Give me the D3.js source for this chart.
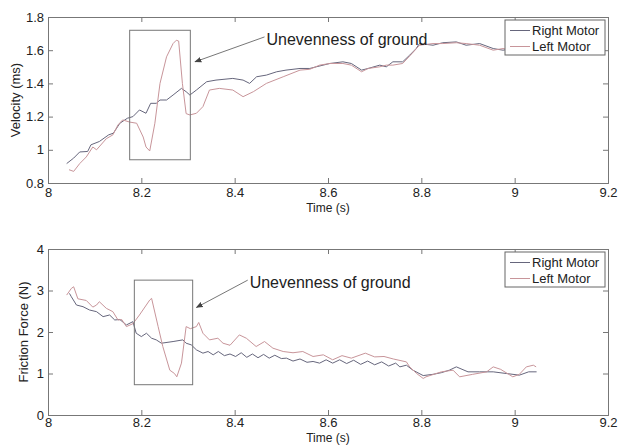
<!DOCTYPE html>
<html>
<head>
<meta charset="utf-8">
<script src="https://cdn.jsdelivr.net/npm/d3@7"></script>
<style>
  body { margin: 0; background: #fff; }
  text { font-family: "Liberation Sans", Arial, sans-serif; fill: #222; }
</style>
</head>
<body>
<script>
// Datos - velocidad
var velTimeRight = [8.040, 8.055, 8.068, 8.085, 8.092, 8.110, 8.130, 8.140, 8.154, 8.170, 8.182, 8.196, 8.210, 8.220, 8.232, 8.240, 8.254, 8.268, 8.286, 8.296, 8.304, 8.318, 8.340, 8.360, 8.396, 8.418, 8.432, 8.447, 8.468, 8.490, 8.510, 8.540, 8.561, 8.575, 8.604, 8.632, 8.650, 8.672, 8.686, 8.711, 8.725, 8.739, 8.760, 8.775, 8.789, 8.796, 8.825, 8.846, 8.875, 8.896, 8.925, 8.954, 8.975, 8.996, 9.020, 9.050];
var velRight = [0.917, 0.95, 0.987, 0.99, 1.03, 1.05, 1.09, 1.10, 1.16, 1.19, 1.20, 1.24, 1.22, 1.28, 1.28, 1.30, 1.30, 1.33, 1.37, 1.35, 1.33, 1.36, 1.41, 1.42, 1.43, 1.42, 1.40, 1.44, 1.45, 1.47, 1.48, 1.49, 1.49, 1.50, 1.52, 1.53, 1.52, 1.48, 1.49, 1.51, 1.50, 1.53, 1.53, 1.57, 1.61, 1.64, 1.63, 1.645, 1.65, 1.63, 1.64, 1.61, 1.60, 1.61, 1.62, 1.61];

var velTimeLeft = [8.045, 8.055, 8.068, 8.082, 8.096, 8.104, 8.125, 8.139, 8.150, 8.160, 8.175, 8.190, 8.204, 8.210, 8.218, 8.229, 8.240, 8.254, 8.268, 8.275, 8.280, 8.288, 8.296, 8.304, 8.318, 8.332, 8.346, 8.367, 8.396, 8.418, 8.440, 8.468, 8.504, 8.540, 8.561, 8.582, 8.604, 8.632, 8.650, 8.672, 8.686, 8.711, 8.725, 8.739, 8.760, 8.780, 8.796, 8.825, 8.846, 8.875, 8.896, 8.925, 8.954, 8.975, 8.996, 9.020, 9.050];
var velLeft = [0.88, 0.87, 0.917, 0.957, 1.017, 1.00, 1.067, 1.09, 1.15, 1.18, 1.167, 1.16, 1.077, 1.017, 0.993, 1.16, 1.40, 1.56, 1.64, 1.66, 1.655, 1.40, 1.218, 1.21, 1.22, 1.26, 1.36, 1.37, 1.36, 1.32, 1.35, 1.40, 1.44, 1.48, 1.485, 1.51, 1.52, 1.52, 1.51, 1.47, 1.49, 1.50, 1.51, 1.51, 1.52, 1.58, 1.63, 1.64, 1.64, 1.645, 1.64, 1.63, 1.60, 1.61, 1.60, 1.61, 1.60];

// Datos - friccion
var fricTimeRight = [8.046, 8.050, 8.061, 8.075, 8.089, 8.104, 8.118, 8.132, 8.143, 8.154, 8.168, 8.182, 8.189, 8.200, 8.211, 8.222, 8.232, 8.243, 8.268, 8.289, 8.296, 8.307, 8.318, 8.332, 8.343, 8.354, 8.365, 8.378, 8.390, 8.402, 8.414, 8.426, 8.438, 8.450, 8.462, 8.474, 8.486, 8.500, 8.511, 8.525, 8.540, 8.555, 8.568, 8.582, 8.596, 8.610, 8.625, 8.640, 8.655, 8.670, 8.685, 8.700, 8.715, 8.730, 8.745, 8.754, 8.768, 8.782, 8.804, 8.825, 8.843, 8.860, 8.875, 8.900, 8.925, 8.954, 8.982, 9.010, 9.030, 9.047];
var fricRight = [2.93, 2.85, 2.65, 2.61, 2.53, 2.49, 2.37, 2.41, 2.29, 2.30, 2.17, 2.25, 1.97, 1.89, 1.97, 1.85, 1.81, 1.73, 1.77, 1.81, 1.73, 1.69, 1.57, 1.49, 1.53, 1.45, 1.53, 1.43, 1.47, 1.41, 1.50, 1.39, 1.47, 1.38, 1.46, 1.37, 1.44, 1.36, 1.37, 1.30, 1.35, 1.27, 1.29, 1.25, 1.33, 1.25, 1.33, 1.24, 1.32, 1.22, 1.30, 1.21, 1.28, 1.18, 1.25, 1.16, 1.20, 1.08, 0.95, 0.98, 1.02, 1.08, 1.16, 1.04, 1.04, 1.04, 1.00, 0.96, 1.04, 1.04];

var fricTimeLeft = [8.040, 8.050, 8.055, 8.064, 8.082, 8.096, 8.104, 8.110, 8.125, 8.139, 8.150, 8.158, 8.168, 8.182, 8.196, 8.218, 8.222, 8.236, 8.246, 8.261, 8.271, 8.276, 8.286, 8.296, 8.305, 8.318, 8.323, 8.332, 8.346, 8.364, 8.375, 8.390, 8.410, 8.425, 8.446, 8.464, 8.482, 8.504, 8.525, 8.546, 8.568, 8.590, 8.610, 8.630, 8.650, 8.680, 8.700, 8.720, 8.740, 8.768, 8.775, 8.790, 8.804, 8.810, 8.843, 8.868, 8.882, 8.910, 8.940, 8.954, 8.970, 8.996, 9.010, 9.025, 9.040, 9.046];
var fricLeft = [2.89, 3.05, 3.09, 2.80, 2.76, 2.60, 2.65, 2.73, 2.57, 2.49, 2.29, 2.30, 2.13, 2.20, 2.41, 2.77, 2.81, 2.13, 1.65, 1.08, 1.00, 0.92, 1.25, 2.13, 2.08, 2.13, 2.23, 1.97, 1.81, 1.85, 1.73, 1.68, 1.93, 1.85, 1.65, 1.77, 1.61, 1.53, 1.50, 1.53, 1.41, 1.45, 1.33, 1.43, 1.37, 1.49, 1.40, 1.41, 1.35, 1.28, 1.16, 1.00, 0.88, 0.92, 1.04, 1.08, 0.92, 0.98, 1.04, 1.16, 1.10, 0.92, 0.98, 1.16, 1.20, 1.16];

// Ticks y etiquetas
var timeTicks = [8, 8.2, 8.4, 8.6, 8.8, 9, 9.2];
var velTicks = [0.8, 1, 1.2, 1.4, 1.6, 1.8];
var fricTicks = [0, 1, 2, 3, 4];
var seriesNames = ["Right Motor", "Left Motor"];
var seriesColors = ["#66667c", "#c8959a"];
var noteText = "Unevenness of ground";

var W = 629, H = 445;
var svg = d3.select("body").append("svg")
    .attr("width", W)
    .attr("height", H);

svg.append("defs").append("marker")
    .attr("id", "head")
    .attr("viewBox", "0 0 10 10")
    .attr("refX", 9).attr("refY", 5)
    .attr("markerWidth", 7).attr("markerHeight", 7)
    .attr("orient", "auto")
    .append("path")
    .attr("d", "M0,1 L10,5 L0,9 Z")
    .attr("fill", "#444");

function panel(p) {
  var x = d3.scaleLinear().domain([8, 9.2]).range([48, 608]);
  var y = d3.scaleLinear().domain(p.yDomain).range([p.bottom, p.top]);
  var g = svg.append("g");

  // ejes (estilo matlab, ticks hacia dentro)
  g.append("g").attr("transform", "translate(0," + p.bottom + ")")
    .call(d3.axisBottom(x).tickValues(timeTicks).tickSize(-5).tickPadding(p.tickPad).tickFormat(d3.format("~g")));
  g.append("g").attr("transform", "translate(0," + p.top + ")")
    .call(d3.axisTop(x).tickValues(timeTicks).tickSize(-5).tickFormat(""));
  g.append("g").attr("transform", "translate(48,0)")
    .call(d3.axisLeft(y).tickValues(p.ticks).tickSize(-5).tickPadding(4).tickFormat(d3.format("~g")));
  g.append("g").attr("transform", "translate(608,0)")
    .call(d3.axisRight(y).tickValues(p.ticks).tickSize(-5).tickFormat(""));
  g.selectAll(".domain").attr("stroke", "#777");
  g.selectAll(".tick line").attr("stroke", "#777");
  g.selectAll(".tick text")
    .attr("font-size", "13px")
    .attr("font-family", "Liberation Sans, Arial, sans-serif")
    .attr("fill", "#222");

  // etiquetas de ejes
  g.append("text")
    .attr("x", 328).attr("y", p.bottom + p.timeDy)
    .attr("text-anchor", "middle")
    .attr("font-size", "12px")
    .text("Time (s)");
  g.append("text")
    .attr("transform", "translate(" + p.labelX + "," + (p.top + p.bottom) / 2 + ") rotate(-90)")
    .attr("text-anchor", "middle")
    .attr("font-size", "13px")
    .text(p.label);

  // lineas
  var line = d3.line()
    .x(function(d) { return x(d[0]); })
    .y(function(d) { return y(d[1]); });
  p.series.forEach(function(s, i) {
    g.append("path")
      .datum(d3.zip(s[0], s[1]))
      .attr("d", line)
      .attr("fill", "none")
      .attr("stroke", seriesColors[i])
      .attr("stroke-width", 1);
  });

  // caja de anotacion
  var b = p.box;
  g.append("rect")
    .attr("x", x(b[0])).attr("y", y(b[3]))
    .attr("width", x(b[1]) - x(b[0]))
    .attr("height", y(b[2]) - y(b[3]))
    .attr("fill", "none")
    .attr("stroke", "#777");
  g.append("line")
    .attr("x1", x(p.arrow[0])).attr("y1", y(p.arrow[1]))
    .attr("x2", x(p.arrow[2])).attr("y2", y(p.arrow[3]))
    .attr("stroke", "#777")
    .attr("marker-end", "url(#head)");
  g.append("text")
    .attr("x", x(p.note[0]) + 1).attr("y", y(p.note[1]))
    .attr("font-size", "16px")
    .text(noteText);

  // leyenda
  var lg = g.append("g").attr("transform", "translate(505," + p.legendY + ")");
  lg.append("rect")
    .attr("width", 100).attr("height", 35)
    .attr("fill", "#fff")
    .attr("stroke", "#666");
  seriesNames.forEach(function(n, i) {
    lg.append("line")
      .attr("x1", 5).attr("x2", 25)
      .attr("y1", 10.5 + i * 16).attr("y2", 10.5 + i * 16)
      .attr("stroke", seriesColors[i]);
    lg.append("text")
      .attr("x", 27).attr("y", 15 + i * 16)
      .attr("font-size", "13px")
      .text(n);
  });
}

panel({
  top: 17, bottom: 183,
  yDomain: [0.8, 1.8], ticks: velTicks,
  label: "Velocity (ms)", labelX: 20,
  series: [[velTimeRight, velRight], [velTimeLeft, velLeft]],
  box: [8.175, 8.305, 0.94, 1.72],
  arrow: [8.464, 1.68, 8.315, 1.53],
  note: [8.466, 1.63],
  legendY: 20,
  tickPad: 5, timeDy: 29
});

panel({
  top: 249, bottom: 415,
  yDomain: [0, 4], ticks: fricTicks,
  label: "Friction Force (N)", labelX: 28,
  series: [[fricTimeRight, fricRight], [fricTimeLeft, fricLeft]],
  box: [8.185, 8.31, 0.73, 3.25],
  arrow: [8.428, 3.25, 8.318, 2.59],
  note: [8.43, 3.06],
  legendY: 252,
  tickPad: 3, timeDy: 27
});
</script>
</body>
</html>
